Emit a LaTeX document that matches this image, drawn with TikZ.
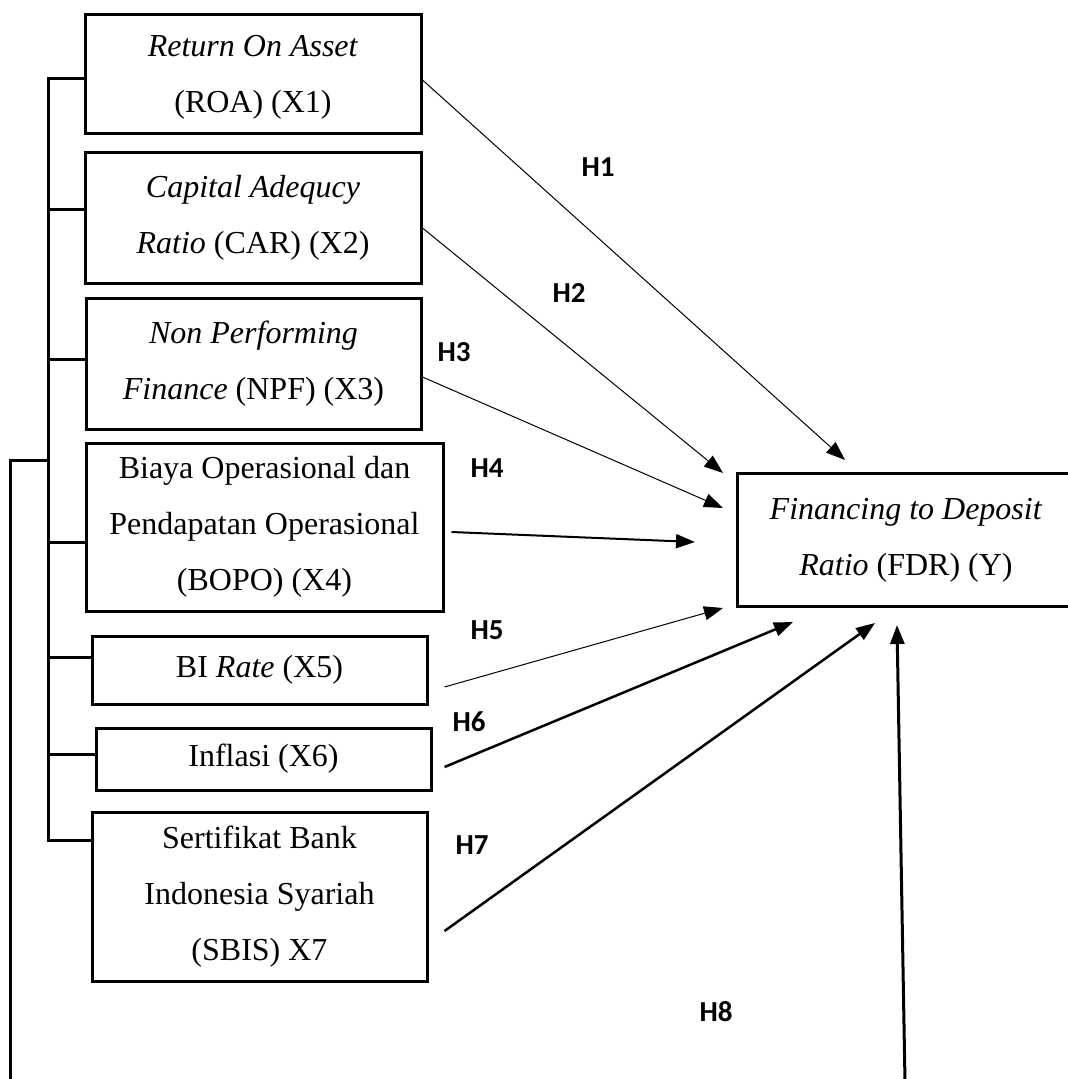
\documentclass[tikz,border=0pt]{standalone}
\usepackage{fontspec}
\setmainfont{Liberation Serif}
\newfontfamily\lblfont{Carlito}
\usetikzlibrary{arrows.meta}
\tikzset{
  varbox/.style={draw, line width=3pt, align=center, inner sep=0pt,
    font=\fontsize{32}{56}\selectfont},
  ybox/.style={align=center, inner sep=0pt, font=\fontsize{32}{56}\selectfont},
  bracket/.style={line width=3pt},
  hlabel/.style={font=\lblfont\bfseries\fontsize{29}{32}\selectfont, inner sep=0pt},
  harrow/.style={-{Triangle[length=19pt,width=14pt]}},
}
\begin{document}
\begin{tikzpicture}[x=1pt,y=-1pt]
\useasboundingbox (0,0) rectangle (1068,1079);
% variable boxes
\node[varbox, minimum width=336, minimum height=119, text depth=0pt] (roa) at (253,73.5)
  {\textit{Return On Asset}\\(ROA) (X1)};
\node[varbox, minimum width=336, minimum height=131] (car) at (253,217.5)
  {\textit{Capital Adequcy}\\\textit{Ratio} (CAR) (X2)};
\node[varbox, minimum width=335, minimum height=131] (npf) at (253.5,363.5)
  {\textit{Non Performing}\\\textit{Finance} (NPF) (X3)};
\node[varbox, minimum width=357, minimum height=168] (bopo) at (264.5,527)
  {Biaya Operasional dan\\Pendapatan Operasional\\(BOPO) (X4)};
\node[varbox, minimum width=335, minimum height=68] (bi) at (259.5,670)
  {BI \textit{Rate} (X5)};
\node[varbox, minimum width=335, minimum height=62] (inf) at (263.5,759)
  {Inflasi (X6)};
\node[varbox, minimum width=335, minimum height=169] (sbis) at (259.5,896.5)
  {Sertifikat Bank\\Indonesia Syariah\\(SBIS) X7};
% dependent variable (box open on the right, cut by the page edge)
\node[ybox, minimum width=336, minimum height=132] (fdr) at (906,540)
  {\textit{Financing to Deposit}\\\textit{Ratio} (FDR) (Y)};
\draw[line width=3pt] (fdr.north east) -- (fdr.north west) -- (fdr.south west) -- (fdr.south east);
% bracket
\coordinate (b1) at (48,78);
\coordinate (b7) at (48,840);
\coordinate (bj) at (48,460);
\coordinate (o1) at (10,460);
\coordinate (o2) at (10,1082);
\draw[bracket] (roa.west |- b1) -- (b1) -- (b7) -- (sbis.west |- b7);
\draw[bracket] (48,209) -- (car.west |- 0,209);
\draw[bracket] (48,359) -- (npf.west |- 0,359);
\draw[bracket] (48,542) -- (bopo.west |- 0,542);
\draw[bracket] (48,657) -- (bi.west |- 0,657);
\draw[bracket] (48,754) -- (inf.west |- 0,754);
\draw[bracket] (bj) -- (o1) -- (o2);
% arrow tips
\coordinate (t1) at (845,460);
\coordinate (t2) at (723,473);
\coordinate (t3) at (723,508);
\coordinate (t4) at (695,542);
\coordinate (t5) at (723,608);
\coordinate (t6) at (793,622);
\coordinate (t7) at (875,623);
\coordinate (t8) at (897,625);
\coordinate (s8) at (905,1082);
% arrows
\draw[harrow, line width=1pt] ([yshift=-6.5pt]roa.east) -- (t1);
\draw[harrow, line width=1pt] ([yshift=-10.5pt]car.east) -- (t2);
\draw[harrow, line width=1pt] ([yshift=-13.5pt]npf.east) -- (t3);
\draw[harrow, line width=2pt] ([xshift=7pt,yshift=-5pt]bopo.east) -- (t4);
\draw[harrow, line width=1pt] ([xshift=16pt,yshift=-17pt]bi.east) -- (t5);
\draw[harrow, line width=2.5pt] ([xshift=12pt,yshift=-8pt]inf.east) -- (t6);
\draw[harrow, line width=2.5pt] ([xshift=16pt,yshift=-34.5pt]sbis.east) -- (t7);
\draw[harrow, line width=3pt] (s8) -- (t8);
% labels
\node[hlabel] (h1) at (598,167) {H1};
\node[hlabel] (h2) at (569,293) {H2};
\node[hlabel] (h3) at (454,352) {H3};
\node[hlabel] (h4) at (487,468) {H4};
\node[hlabel] (h5) at (487,630) {H5};
\node[hlabel] (h6) at (469,722) {H6};
\node[hlabel] (h7) at (472,845) {H7};
\node[hlabel] (h8) at (716,1012) {H8};
\end{tikzpicture}
\end{document}
